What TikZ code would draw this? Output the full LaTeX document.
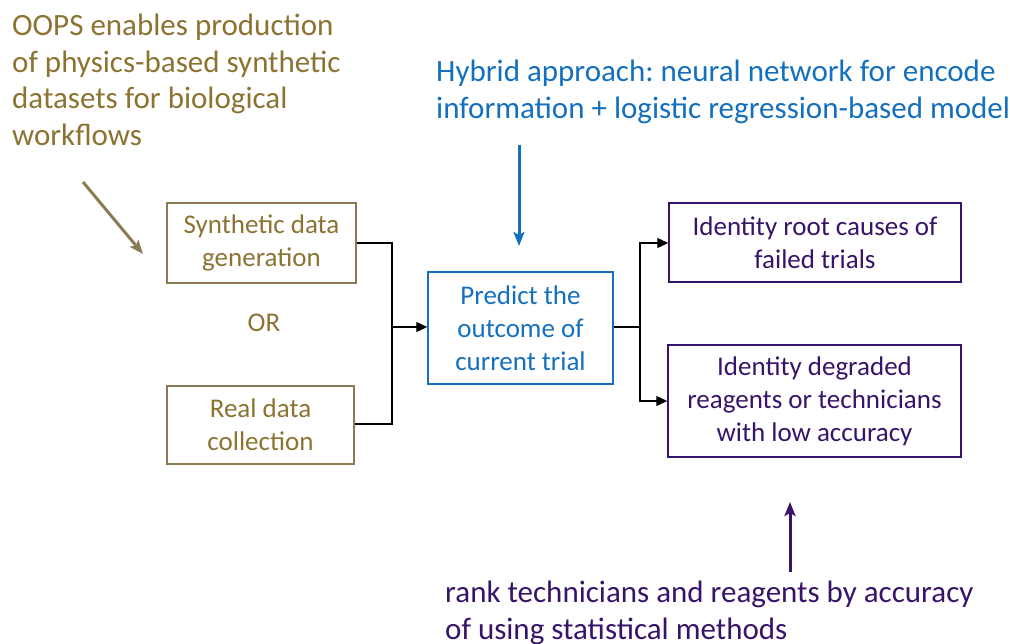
\documentclass[tikz,border=0pt]{standalone}
\usepackage{fontspec}
\setmainfont{Carlito}
\frenchspacing
\usetikzlibrary{arrows.meta}
\definecolor{olive}{RGB}{140,115,50}
\definecolor{oliveline}{RGB}{140,122,85}
\definecolor{blu}{RGB}{20,112,190}
\definecolor{purp}{RGB}{55,20,105}
\tikzset{
  box/.style={draw, line width=1.5pt, align=center, inner sep=0pt,
    font=\fontsize{27}{33}\selectfont},
  gbox/.style={box, draw=oliveline, text=olive},
  bbox/.style={box, draw=blu, text=blu},
  pbox/.style={box, draw=purp, text=purp},
  note/.style={align=left, anchor=north west, inner sep=0pt,
    font=\fontsize{31}{36.5}\selectfont},
  link/.style={draw=black, line width=1.3pt},
  linkarrow/.style={link, -{Triangle[length=11pt,width=10pt]}},
  fat/.style={line width=3pt, -{Stealth[length=14pt,width=11pt,inset=3pt]}}
}
\begin{document}
\begin{tikzpicture}[x=1pt,y=-1pt]
\useasboundingbox (0,0) rectangle (1010,643);

% input boxes
\node[gbox, minimum width=189, minimum height=80] (syn) at (261.5,243) {Synthetic data\\generation};
\node[gbox, minimum width=187, minimum height=78] (real) at (260.5,425) {Real data\\collection};
\node[text=olive, font=\fontsize{27}{30}\selectfont] (or) at (264,323) {OR};

% central prediction box
\node[bbox, minimum width=185, minimum height=112] (pred) at (520.5,328) {Predict the\\outcome of\\current trial};

% output boxes
\node[pbox, minimum width=292, minimum height=79] (root) at (815,242.5) {Identity root causes of\\failed trials};
\node[pbox, minimum width=293, minimum height=112] (degr) at (814.5,401) {Identity degraded\\reagents or technicians\\with low accuracy};

% annotations
\node[note, text=olive] (oops) at (12,14) {OOPS enables production\\of physics-based synthetic\\datasets for biological\\workflows};
\node[note, text=blu] (hyb) at (436,60) {Hybrid approach: neural network for encode\\information + logistic regression-based model};
\node[note, text=purp] (rank) at (445,581) {rank technicians and reagents by accuracy\\of using statistical methods};

% merge of the two data sources
\coordinate (jin) at (392,327);
\draw[link] (syn.east |- 0,243) -| (jin);
\draw[link] (real.east |- 0,424) -| (jin);
\draw[linkarrow] (jin) -- (pred.west |- jin);

% split towards the two outputs
\coordinate (jout) at (640,327);
\draw[link] (pred.east |- jout) -- (jout);
\draw[linkarrow] (jout) |- (root.west |- 0,243);
\draw[linkarrow] (jout) |- (degr.west |- 0,401);

% annotation arrows
\coordinate (a1) at (83,182);
\coordinate (a2) at (143,254);
\draw[fat, draw=oliveline, fill=oliveline] (a1) -- (a2);
\coordinate (b1) at (519,145);
\coordinate (b2) at (519,246);
\draw[fat, draw=blu, fill=blu] (b1) -- (b2);
\coordinate (c1) at (790,572);
\coordinate (c2) at (790,502);
\draw[fat, draw=purp, fill=purp] (c1) -- (c2);
\end{tikzpicture}
\end{document}
